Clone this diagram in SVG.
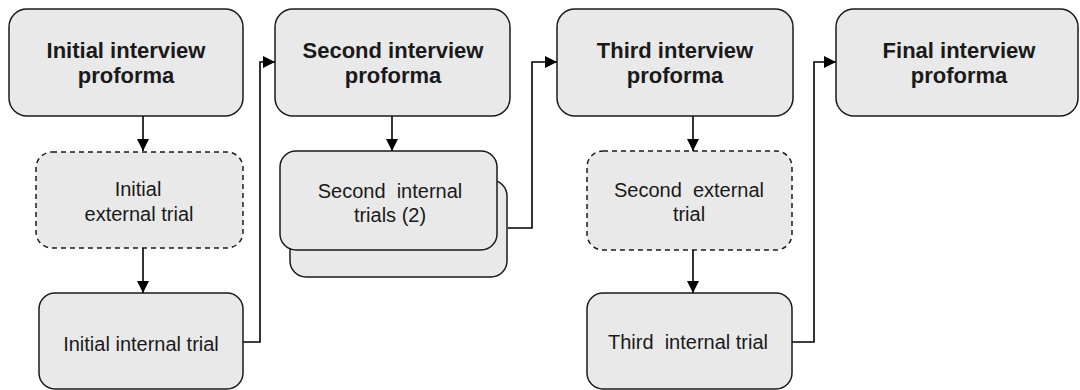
<svg xmlns="http://www.w3.org/2000/svg" width="1080" height="390" viewBox="0 0 1080 390">
<style>
.box{fill:#e9e9e9;stroke:#1a1a1a;stroke-width:1.5}
.dash{stroke-dasharray:5,4}
.t{font-family:"Liberation Sans",Arial,sans-serif;font-size:20px;fill:#1a1a1a;text-anchor:middle}
.b{font-weight:bold;font-size:22px}
.c{fill:none;stroke:#000;stroke-width:1.6}
</style>
<defs>
<marker id="ah" viewBox="0 0 12 12" refX="12" refY="6" markerWidth="12" markerHeight="12" markerUnits="userSpaceOnUse" orient="auto">
<path d="M0,0 L12,6 L0,12 Z" fill="#000"/>
</marker>
</defs>
<rect x="0" y="0" width="1080" height="390" fill="#fff"/>
<g id="connectors">
<line class="c" x1="143" y1="116" x2="143" y2="151" marker-end="url(#ah)"/>
<line class="c" x1="143" y1="248" x2="143" y2="293" marker-end="url(#ah)"/>
<polyline class="c" points="243,342 260,342 260,62 275,62" marker-end="url(#ah)"/>
<line class="c" x1="392" y1="116" x2="392" y2="151" marker-end="url(#ah)"/>
<polyline class="c" points="508,228 532,228 532,62 557,62" marker-end="url(#ah)"/>
<line class="c" x1="693" y1="116" x2="693" y2="151" marker-end="url(#ah)"/>
<line class="c" x1="693" y1="250" x2="693" y2="293" marker-end="url(#ah)"/>
<polyline class="c" points="792,342 814,342 814,62 836,62" marker-end="url(#ah)"/>
</g>
<g id="initial-proforma">
<rect class="box" x="9" y="9" width="234" height="107" rx="18"/>
<text class="t b" x="126" y="58">Initial interview</text>
<text class="t b" x="126" y="83">proforma</text>
</g>
<g id="initial-external">
<rect class="box dash" x="36" y="152" width="207" height="96" rx="16"/>
<text class="t" x="138" y="196">Initial</text>
<text class="t" x="139" y="221">external trial</text>
</g>
<g id="initial-internal">
<rect class="box" x="39" y="293" width="204" height="96" rx="16"/>
<text class="t" x="141" y="351">Initial internal trial</text>
</g>
<g id="second-proforma">
<rect class="box" x="275" y="9" width="235" height="107" rx="18"/>
<text class="t b" x="393" y="58">Second interview</text>
<text class="t b" x="393" y="83">proforma</text>
</g>
<g id="second-internal">
<rect class="box" x="290" y="180" width="217" height="97" rx="16"/>
<rect class="box" x="280" y="151" width="217" height="99" rx="16"/>
<text class="t" x="390" y="198" xml:space="preserve">Second  internal</text>
<text class="t" x="390" y="222">trials (2)</text>
</g>
<g id="third-proforma">
<rect class="box" x="557" y="9" width="236" height="107" rx="18"/>
<text class="t b" x="675" y="58">Third interview</text>
<text class="t b" x="675" y="83">proforma</text>
</g>
<g id="second-external">
<rect class="box dash" x="587" y="151" width="205" height="99" rx="16"/>
<text class="t" x="689" y="197" xml:space="preserve">Second  external</text>
<text class="t" x="689" y="221">trial</text>
</g>
<g id="third-internal">
<rect class="box" x="587" y="293" width="205" height="96" rx="16"/>
<text class="t" x="688" y="349" xml:space="preserve">Third  internal trial</text>
</g>
<g id="final-proforma">
<rect class="box" x="836" y="9" width="242" height="107" rx="18"/>
<text class="t b" x="959" y="58">Final interview</text>
<text class="t b" x="959" y="83">proforma</text>
</g>
</svg>
